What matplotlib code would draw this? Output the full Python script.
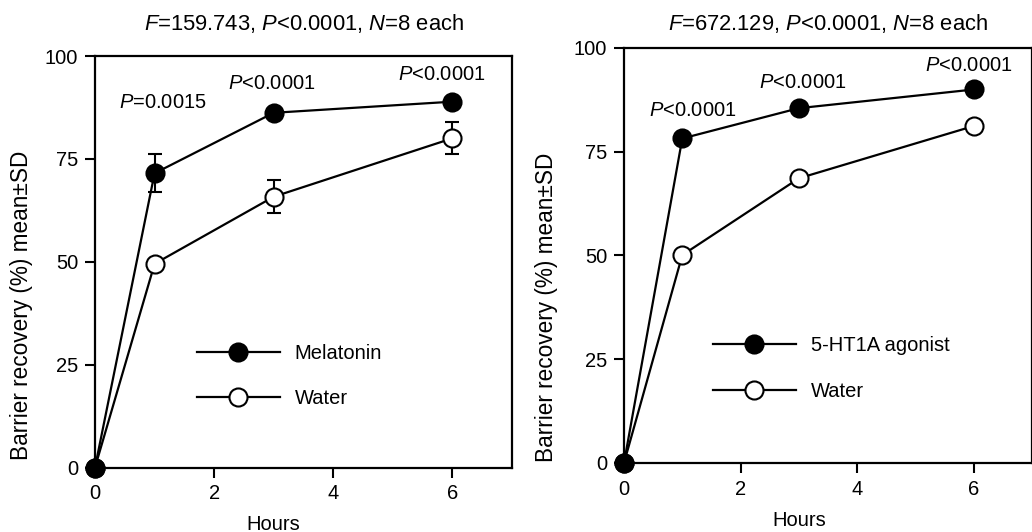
import matplotlib
matplotlib.use('Agg')
import matplotlib.pyplot as plt
from matplotlib.lines import Line2D

plt.rcParams['font.family'] = ['Liberation Sans', 'DejaVu Sans']
plt.rcParams['mathtext.fontset'] = 'custom'
plt.rcParams['mathtext.rm'] = 'Liberation Sans'
plt.rcParams['mathtext.it'] = 'Liberation Sans:italic'
plt.rcParams['font.size'] = 14.5

# data
hours = [0, 1, 3, 6]
melatonin = [0, 71.5, 86.2, 88.9]
melatonin_sd = [0, 4.6, 1.0, 1.0]
water_left = [0, 49.5, 65.8, 80.0]
water_left_sd = [0, 1.0, 4.05, 3.9]
agonist = [0, 78.2, 85.5, 90.0]
water_right = [0, 50.1, 68.6, 81.2]

left_title = r'$F$=159.743, $P$<0.0001, $N$=8 each'
right_title = r'$F$=672.129, $P$<0.0001, $N$=8 each'
left_pvals = [r'$P$=0.0015', r'$P$<0.0001', r'$P$<0.0001']
left_pval_pos = [(1.14, 88.8), (2.97, 93.4), (5.82, 95.4)]
right_pvals = [r'$P$<0.0001', r'$P$<0.0001', r'$P$<0.0001']
right_pval_pos = [(1.18, 85.0), (3.07, 91.6), (5.92, 95.7)]

fig = plt.figure(figsize=(10.32, 5.32), dpi=100)
ax1 = fig.add_axes([95/1032, (532-467.5)/532, 417/1032, 411.5/532])
ax2 = fig.add_axes([624/1032, (532-463)/532, 408/1032, 415/532])

kw = dict(color='black', lw=1.6, ms=13, mec='black', mew=1.5, clip_on=False)


def style(ax):
    ax.set_xlim(0, 7)
    ax.set_ylim(0, 100)
    ax.set_xticks([0, 2, 4, 6])
    ax.set_yticks([0, 25, 50, 75, 100])
    ax.tick_params(direction='out', length=7, width=1.5, pad=5)
    for s in ax.spines.values():
        s.set_linewidth(1.6)
    ax.set_xlabel('Hours')
    ax.set_ylabel('Barrier recovery (%) mean\u00b1SD', fontsize=16.3)
    ax.xaxis.set_label_coords(3/7, -0.115)


def draw(ax, treat, treat_sd, water, water_sd, treat_label):
    if water_sd is None:
        ax.plot(hours, water, marker='o', mfc='white', zorder=3, **kw)
        ax.plot(hours, treat, marker='o', mfc='black', zorder=4, **kw)
    else:
        ax.errorbar(hours, water, yerr=water_sd, marker='o', mfc='white',
                    capsize=5, elinewidth=1.5, capthick=1.5, zorder=3, **kw)
        ax.errorbar(hours, treat, yerr=treat_sd, marker='o', mfc='black',
                    capsize=5, elinewidth=1.5, capthick=1.5, zorder=4, **kw)
    hk = dict(color='black', lw=1.6, ms=13, mec='black', mew=1.5, marker='o')
    handles = [Line2D([], [], mfc='black', **hk), Line2D([], [], mfc='white', **hk)]
    return handles, [treat_label, 'Water']


style(ax1)
h, l = draw(ax1, melatonin, melatonin_sd, water_left, water_left_sd, 'Melatonin')
ax1.legend(h, l, loc='upper left', bbox_to_anchor=(0.245, 0.30), frameon=False,
           handlelength=4.1, handletextpad=0.75, labelspacing=1.3, borderpad=0,
           borderaxespad=0)
ax1.set_title(left_title, pad=19, fontsize=15.8)
ax1.yaxis.set_label_coords(-0.148, 0.395)
for txt, (x, y) in zip(left_pvals, left_pval_pos):
    ax1.text(x, y, txt, ha='center', va='center')

style(ax2)
h, l = draw(ax2, agonist, None, water_right, None, '5-HT1A agonist')
ax2.legend(h, l, loc='upper left', bbox_to_anchor=(0.218, 0.305), frameon=False,
           handlelength=4.1, handletextpad=0.75, labelspacing=1.3, borderpad=0,
           borderaxespad=0)
ax2.set_title(right_title, pad=13, fontsize=15.8)
ax2.yaxis.set_label_coords(-0.162, 0.375)
for txt, (x, y) in zip(right_pvals, right_pval_pos):
    ax2.text(x, y, txt, ha='center', va='center')

fig.savefig('out.png', dpi=100)
